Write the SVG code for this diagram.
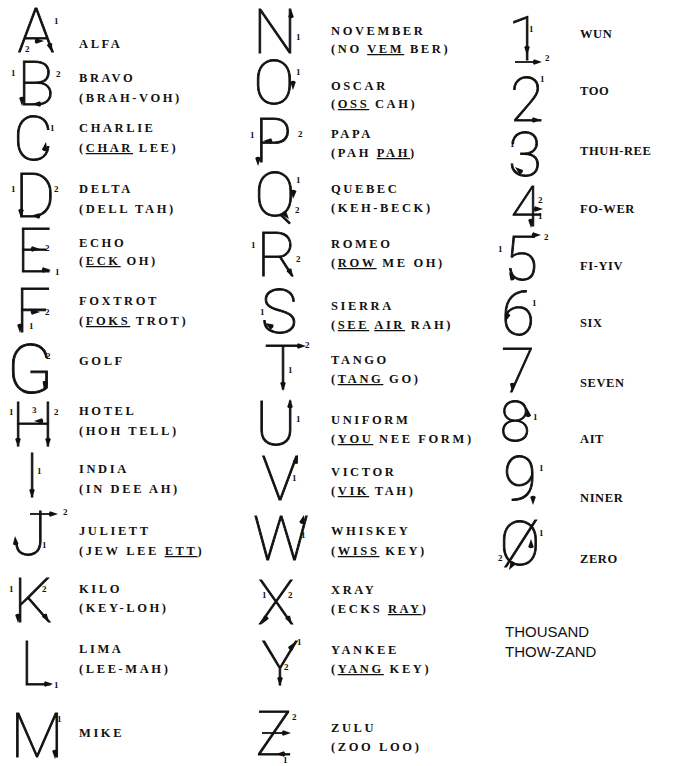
<svg xmlns="http://www.w3.org/2000/svg" xmlns:xlink="http://www.w3.org/1999/xlink" width="677" height="766" viewBox="0 0 677 766">
<defs>
<style>
.big{font-family:Roboto,"Liberation Sans",sans-serif;font-weight:100;font-size:62px;fill:#111;stroke:#111;stroke-width:0.9;text-anchor:middle}
.n{font-family:"Liberation Serif",serif;font-weight:bold;font-size:9px;fill:#111}
.lb{font-family:"Liberation Serif",serif;font-weight:bold;font-size:12.5px;letter-spacing:2.6px;fill:#111}
.dg{font-family:"Liberation Serif",serif;font-weight:bold;font-size:12.5px;letter-spacing:0.6px;fill:#111}
.th{font-family:"Liberation Sans",sans-serif;font-size:15px;fill:#111}
.u{text-decoration:underline}
.ln{stroke:#111;stroke-width:1.8;fill:none}
</style>
<path id="ah" d="M0,0 L-8,-2.8 Q-10.5,0 -8,2.8 Z" fill="#111"/>
</defs>
<rect width="677" height="766" fill="#fff"/>

<g id="alfa"><text class="big" x="36" y="52">A</text>
<use xlink:href="#ah" transform="translate(52,52) rotate(72)"/><use xlink:href="#ah" transform="translate(44,41) rotate(0)"/>
<text class="n" x="54" y="24">1</text><text class="n" x="25" y="52">2</text>
<text class="lb" x="79" y="48">ALFA</text></g>

<g id="bravo"><text class="big" x="36" y="105">B</text>
<use xlink:href="#ah" transform="translate(22,106) rotate(90)"/><use xlink:href="#ah" transform="translate(32,104) rotate(180)"/>
<text class="n" x="11" y="76">1</text><text class="n" x="56" y="77">2</text>
<text class="lb" x="79" y="82">BRAVO</text><text class="lb" x="79" y="102">(BRAH-VOH)</text></g>

<g id="charlie"><text class="big" x="33" y="160">C</text>
<use xlink:href="#ah" transform="translate(46,142) rotate(-80)"/>
<text class="n" x="50" y="131">1</text>
<text class="lb" x="79" y="132">CHARLIE</text><text class="lb" x="79" y="152">(<tspan class="u">CHAR</tspan> LEE)</text></g>

<g id="delta"><text class="big" x="35" y="217">D</text>
<use xlink:href="#ah" transform="translate(21,218) rotate(90)"/><use xlink:href="#ah" transform="translate(31,216) rotate(180)"/>
<text class="n" x="11" y="192">1</text><text class="n" x="54" y="192">2</text>
<text class="lb" x="79" y="193">DELTA</text><text class="lb" x="79" y="213">(DELL TAH)</text></g>

<g id="echo"><text class="big" x="34" y="272">E</text>
<use xlink:href="#ah" transform="translate(40,249) rotate(0)"/><use xlink:href="#ah" transform="translate(51,270) rotate(0)"/>
<text class="n" x="45" y="251">2</text><text class="n" x="55" y="275">1</text>
<text class="lb" x="79" y="247">ECHO</text><text class="lb" x="79" y="265">(<tspan class="u">ECK</tspan> OH)</text></g>

<g id="foxtrot"><text class="big" x="33" y="332">F</text>
<use xlink:href="#ah" transform="translate(20,333) rotate(90)"/><use xlink:href="#ah" transform="translate(40,312) rotate(0)"/>
<text class="n" x="45" y="315">2</text><text class="n" x="29" y="329">1</text>
<text class="lb" x="79" y="305">FOXTROT</text><text class="lb" x="79" y="325">(<tspan class="u">FOKS</tspan> TROT)</text></g>

<g id="golf"><text class="big" x="30" y="393" style="font-size:68px">G</text>
<use xlink:href="#ah" transform="translate(44,390) rotate(100)"/>
<text class="n" x="46" y="359">2</text>
<text class="lb" x="79" y="365">GOLF</text></g>

<g id="hotel"><text class="big" x="33" y="446">H</text>
<use xlink:href="#ah" transform="translate(18,447) rotate(90)"/><use xlink:href="#ah" transform="translate(48,447) rotate(90)"/><use xlink:href="#ah" transform="translate(34,421) rotate(180)"/>
<text class="n" x="9" y="415">1</text><text class="n" x="32" y="413">3</text><text class="n" x="54" y="415">2</text>
<text class="lb" x="79" y="415">HOTEL</text><text class="lb" x="79" y="435">(HOH TELL)</text></g>

<g id="india"><text class="big" x="32" y="497">I</text>
<use xlink:href="#ah" transform="translate(32,498) rotate(90)"/>
<text class="n" x="37" y="474">1</text>
<text class="lb" x="79" y="473">INDIA</text><text class="lb" x="79" y="493">(IN DEE AH)</text></g>

<g id="juliett"><text class="big" x="30" y="555">J</text>
<path class="ln" d="M30,514 H54"/>
<use xlink:href="#ah" transform="translate(58,514) rotate(0)"/><use xlink:href="#ah" transform="translate(15,536) rotate(-95)"/>
<text class="n" x="63" y="515">2</text><text class="n" x="42" y="548">1</text>
<text class="lb" x="79" y="535">JULIETT</text><text class="lb" x="79" y="555">(JEW LEE <tspan class="u">ETT</tspan>)</text></g>

<g id="kilo"><text class="big" x="33" y="622">K</text>
<use xlink:href="#ah" transform="translate(18,623) rotate(90)"/><use xlink:href="#ah" transform="translate(49,622) rotate(55)"/>
<text class="n" x="9" y="592">1</text><text class="n" x="42" y="592">2</text>
<text class="lb" x="79" y="593">KILO</text><text class="lb" x="79" y="612">(KEY-LOH)</text></g>

<g id="lima"><text class="big" x="36" y="685">L</text>
<use xlink:href="#ah" transform="translate(53,684) rotate(0)"/>
<text class="n" x="54" y="688">1</text>
<text class="lb" x="79" y="653">LIMA</text><text class="lb" x="79" y="673">(LEE-MAH)</text></g>

<g id="mike"><text class="big" x="37" y="757">M</text>
<use xlink:href="#ah" transform="translate(55,759) rotate(90)"/>
<text class="n" x="57" y="722">1</text>
<text class="lb" x="79" y="737">MIKE</text></g>

<g id="november"><text class="big" x="275" y="53">N</text>
<use xlink:href="#ah" transform="translate(291,9) rotate(-90)"/>
<text class="n" x="296" y="40">1</text>
<text class="lb" x="331" y="35">NOVEMBER</text><text class="lb" x="331" y="53">(NO <tspan class="u">VEM</tspan> BER)</text></g>

<g id="oscar"><text class="big" x="274" y="104">O</text>
<use xlink:href="#ah" transform="translate(293,90) rotate(90)"/>
<text class="n" x="296" y="75">1</text>
<text class="lb" x="331" y="90">OSCAR</text><text class="lb" x="331" y="108">(<tspan class="u">OSS</tspan> CAH)</text></g>

<g id="papa"><text class="big" x="273" y="162">P</text>
<use xlink:href="#ah" transform="translate(258,166) rotate(90)"/><use xlink:href="#ah" transform="translate(263,141) rotate(180)"/>
<text class="n" x="250" y="138">1</text><text class="n" x="298" y="137">2</text>
<text class="lb" x="331" y="138">PAPA</text><text class="lb" x="331" y="157">(PAH <tspan class="u">PAH</tspan>)</text></g>

<g id="quebec"><text class="big" x="275" y="216">Q</text>
<use xlink:href="#ah" transform="translate(293,199) rotate(95)"/><use xlink:href="#ah" transform="translate(289,219) rotate(50)"/>
<text class="n" x="296" y="183">1</text><text class="n" x="295" y="213">2</text>
<text class="lb" x="331" y="193">QUEBEC</text><text class="lb" x="331" y="212">(KEH-BECK)</text></g>

<g id="romeo"><text class="big" x="277" y="276">R</text>
<use xlink:href="#ah" transform="translate(293,277) rotate(60)"/>
<text class="n" x="251" y="248">1</text><text class="n" x="296" y="262">2</text>
<text class="lb" x="331" y="248">ROMEO</text><text class="lb" x="331" y="267">(<tspan class="u">ROW</tspan> ME OH)</text></g>

<g id="sierra"><text class="big" x="279" y="333">S</text>
<use xlink:href="#ah" transform="translate(265,323) rotate(-150)"/>
<text class="n" x="260" y="315">1</text>
<text class="lb" x="331" y="310">SIERRA</text><text class="lb" x="331" y="329">(<tspan class="u">SEE</tspan> <tspan class="u">AIR</tspan> RAH)</text></g>

<g id="tango"><text class="big" x="283" y="389">T</text>
<use xlink:href="#ah" transform="translate(306,346) rotate(0)"/><use xlink:href="#ah" transform="translate(283,391) rotate(90)"/>
<text class="n" x="305" y="348">2</text><text class="n" x="288" y="373">1</text>
<text class="lb" x="331" y="364">TANGO</text><text class="lb" x="331" y="383">(<tspan class="u">TANG</tspan> GO)</text></g>

<g id="uniform"><text class="big" x="276" y="445">U</text>
<use xlink:href="#ah" transform="translate(290,399) rotate(-90)"/>
<text class="n" x="296" y="422">1</text>
<text class="lb" x="331" y="424">UNIFORM</text><text class="lb" x="331" y="443">(<tspan class="u">YOU</tspan> NEE FORM)</text></g>

<g id="victor"><text class="big" x="280" y="500">V</text>
<use xlink:href="#ah" transform="translate(298,455) rotate(-70)"/>
<text class="n" x="292" y="481">1</text>
<text class="lb" x="331" y="476">VICTOR</text><text class="lb" x="331" y="495">(<tspan class="u">VIK</tspan> TAH)</text></g>

<g id="whiskey"><text class="big" x="281" y="560">W</text>
<use xlink:href="#ah" transform="translate(304,515) rotate(-75)"/>
<text class="n" x="301" y="538">1</text>
<text class="lb" x="331" y="535">WHISKEY</text><text class="lb" x="331" y="555">(<tspan class="u">WISS</tspan> KEY)</text></g>

<g id="xray"><text class="big" x="276" y="624">X</text>
<use xlink:href="#ah" transform="translate(262,624) rotate(123)"/><use xlink:href="#ah" transform="translate(292,624) rotate(57)"/>
<text class="n" x="262" y="598">1</text><text class="n" x="288" y="598">2</text>
<text class="lb" x="331" y="594">XRAY</text><text class="lb" x="331" y="613">(ECKS <tspan class="u">RAY</tspan>)</text></g>

<g id="yankee"><text class="big" x="280" y="685">Y</text>
<use xlink:href="#ah" transform="translate(295,642) rotate(-55)"/><use xlink:href="#ah" transform="translate(280,686) rotate(90)"/>
<text class="n" x="297" y="645">1</text><text class="n" x="284" y="670">2</text>
<text class="lb" x="331" y="654">YANKEE</text><text class="lb" x="331" y="673">(<tspan class="u">YANG</tspan> KEY)</text></g>

<g id="zulu"><text class="big" x="274" y="755">Z</text>
<path class="ln" d="M262,733 H286"/>
<use xlink:href="#ah" transform="translate(291,733) rotate(0)"/><use xlink:href="#ah" transform="translate(276,754) rotate(180)"/>
<text class="n" x="292" y="720">2</text><text class="n" x="283" y="763">1</text>
<text class="lb" x="331" y="732">ZULU</text><text class="lb" x="331" y="751">(ZOO LOO)</text></g>

<g id="wun"><text class="big" x="525" y="60">1</text>
<path class="ln" d="M515,62 H538"/>
<use xlink:href="#ah" transform="translate(527,55) rotate(90)"/><use xlink:href="#ah" transform="translate(542,62) rotate(0)"/>
<text class="n" x="529" y="32">1</text><text class="n" x="545" y="61">2</text>
<text class="dg" x="580" y="38">WUN</text></g>

<g id="too"><text class="big" x="527" y="121">2</text>
<use xlink:href="#ah" transform="translate(541,120) rotate(0)"/>
<text class="n" x="540" y="82">1</text>
<text class="dg" x="580" y="95">TOO</text></g>

<g id="three"><text class="big" x="525" y="176">3</text>
<use xlink:href="#ah" transform="translate(515,167) rotate(-140)"/>
<text class="n" x="510" y="147">1</text>
<text class="dg" x="580" y="155">THUH-REE</text></g>

<g id="four"><text class="big" x="526" y="226" style="font-size:56px">4</text>
<use xlink:href="#ah" transform="translate(531,228) rotate(90)"/><use xlink:href="#ah" transform="translate(543,209) rotate(0)"/>
<text class="n" x="538" y="203">2</text><text class="n" x="538" y="219">1</text><text class="n" x="544" y="240">2</text>
<text class="dg" x="580" y="213">FO-WER</text></g>

<g id="five"><text class="big" x="521" y="280">5</text>
<use xlink:href="#ah" transform="translate(541,235) rotate(0)"/><use xlink:href="#ah" transform="translate(509,272) rotate(-120)"/>
<text class="n" x="498" y="252">1</text>
<text class="dg" x="580" y="270">FI-YIV</text></g>

<g id="six"><text class="big" x="518" y="335">6</text>
<use xlink:href="#ah" transform="translate(505,322) rotate(110)"/>
<text class="n" x="532" y="306">1</text>
<text class="dg" x="580" y="327">SIX</text></g>

<g id="seven"><text class="big" x="518" y="392">7</text>
<use xlink:href="#ah" transform="translate(512,392) rotate(95)"/>
<text class="dg" x="580" y="387">SEVEN</text></g>

<g id="eight"><text class="big" x="515" y="441" style="font-size:56px">8</text>
<use xlink:href="#ah" transform="translate(527,408) rotate(-100)"/>
<text class="n" x="533" y="420">1</text>
<text class="dg" x="580" y="443">AIT</text></g>

<g id="niner"><text class="big" x="520" y="500">9</text>
<use xlink:href="#ah" transform="translate(533,505) rotate(90)"/>
<text class="n" x="539" y="471">1</text>
<text class="dg" x="580" y="502">NINER</text></g>

<g id="zero"><text class="big" x="520" y="565">Ø</text>
<use xlink:href="#ah" transform="translate(531,539) rotate(-90)"/><use xlink:href="#ah" transform="translate(509,570) rotate(120)"/>
<text class="n" x="539" y="536">1</text><text class="n" x="498" y="561">2</text>
<text class="dg" x="580" y="563">ZERO</text></g>

<g id="thousand">
<text class="th" x="505" y="637">THOUSAND</text><text class="th" x="505" y="657">THOW-ZAND</text></g>
</svg>
